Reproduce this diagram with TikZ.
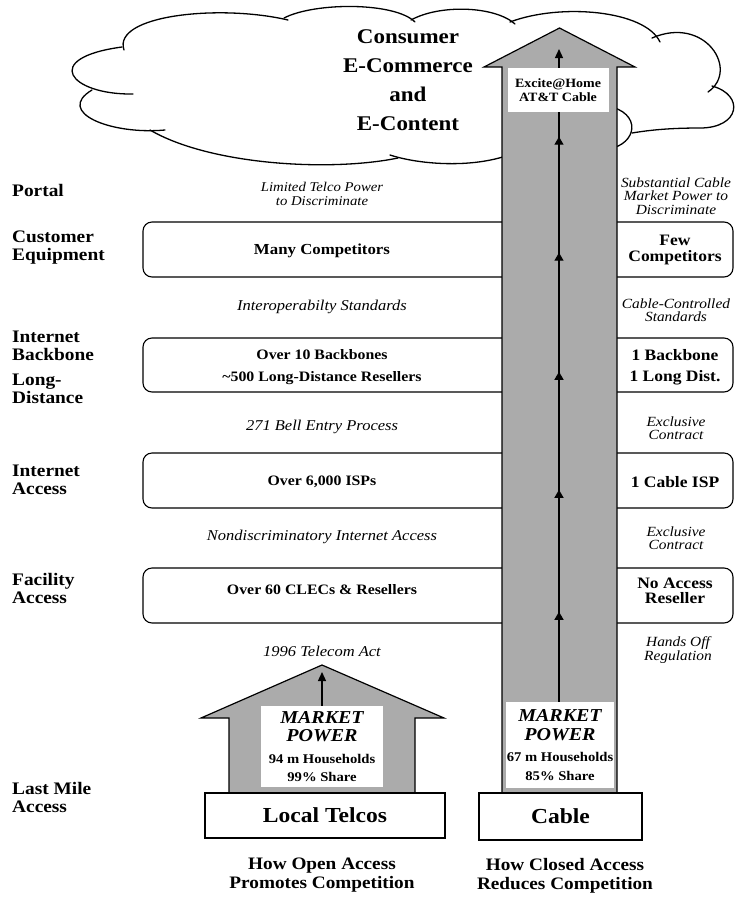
\documentclass[tikz,border=0pt]{standalone}
\usepackage{fontspec}
\setmainfont{Liberation Serif}[FakeStretch=1.1]
\usetikzlibrary{arrows.meta,decorations.markings}
\newcommand{\hhf}{\bfseries\upshape\fontsize{13.3}{17}\selectfont}
\tikzset{
  cloudline/.style={line width=1.3pt, line cap=round},
  lbl/.style={font=\bfseries\fontsize{17.6}{18}\selectfont, align=left, anchor=west, inner sep=0pt},
  boxtxt/.style={font=\bfseries\fontsize{14.4}{17}\selectfont, align=center, inner sep=0pt},
  rboxtxt/.style={font=\bfseries\fontsize{15.9}{15.5}\selectfont, align=center, inner sep=0pt},
  itl/.style={font=\itshape\fontsize{15}{15}\selectfont, align=center, inner sep=0pt},
  sitl/.style={font=\itshape\fontsize{13.4}{14.5}\selectfont, align=center, inner sep=0pt},
  ritl/.style={font=\itshape\fontsize{14}{13.5}\selectfont, align=center, inner sep=0pt},
  layerbox/.style={draw, rounded corners=9pt, line width=1.1pt},
  bigarrow/.style={fill=black!33, draw=black, line width=1.2pt, line join=miter},
  whitebox/.style={fill=white, draw=none, inner sep=0pt, align=center},
  mktbox/.style={whitebox, font=\bfseries\itshape\fontsize{18.2}{18.5}\selectfont},
  basebox/.style={draw, fill=white, line width=1.1pt, font=\bfseries\fontsize{21.4}{24}\selectfont, inner sep=0pt},
  caption/.style={font=\bfseries\fontsize{17.5}{19}\selectfont, align=center, inner sep=0pt},
  cloudtxt/.style={font=\bfseries\fontsize{20.9}{29}\selectfont, align=center, inner sep=0pt},
  flow/.style={line width=1.3pt},
  tip/.style={-{Triangle[width=8pt,length=9pt]}, line width=1.3pt}
}
\begin{document}
\begin{tikzpicture}[x=1pt,y=-1pt]
\useasboundingbox (0,0) rectangle (735,898);
% cloud
\draw[cloudline] (124,50) .. controls (112,15) and (220,4) .. (288,20);
\draw[cloudline] (284,18) .. controls (315,2) and (395,2) .. (415,22);
\draw[cloudline] (411,20) .. controls (440,4) and (495,6) .. (515,24);
\draw[cloudline] (510,22) .. controls (560,3) and (645,10) .. (660,42);
\draw[cloudline] (652,38) .. controls (705,15) and (740,70) .. (708,92);
\draw[cloudline] (712,86) .. controls (745,95) and (740,128) .. (700,128) .. controls (670,128) and (650,130) .. (632,133);
\draw[cloudline] (600,105) .. controls (640,108) and (640,140) .. (613,148);
\draw[cloudline] (540,135) .. controls (510,170) and (430,168) .. (390,155);
\draw[cloudline] (398,158) .. controls (330,172) and (210,165) .. (150,130);
\draw[cloudline] (165,130) .. controls (110,135) and (55,112) .. (92,90);
\draw[cloudline] (133,94) .. controls (70,95) and (40,58) .. (122,47);
\node[cloudtxt] (cloudt) at (408,80) {Consumer\\E-Commerce\\and\\E-Content};
% layer boxes
\node[layerbox, minimum width=590pt, minimum height=55pt] (b1) at (438,249.5) {};
\node[layerbox, minimum width=590pt, minimum height=54pt] (b2) at (438,365) {};
\node[layerbox, minimum width=590pt, minimum height=55pt] (b3) at (438,480.5) {};
\node[layerbox, minimum width=590pt, minimum height=55pt] (b4) at (438,595.5) {};
% left labels
\node[lbl] (lp) at (12,190) {Portal};
\node[lbl] (lce) at (12,248) {Customer\\Equipment};
\node[lbl] (lib) at (12,345.5) {Internet\\Backbone};
\node[lbl] (lld) at (12,388.5) {Long-\\Distance};
\node[lbl] (lia) at (12,480) {Internet\\Access};
\node[lbl] (lfa) at (12,588) {Facility\\Access};
\node[lbl] (llm) at (12,797) {Last Mile\\Access};
% open side texts
\node[sitl] (i1) at (322,194) {Limited Telco Power\\to Discriminate};
\node[boxtxt, font=\bfseries\fontsize{15.3}{17}\selectfont] (t1) at (322,251) {Many Competitors};
\node[itl] (i2) at (322,307) {Interoperabilty Standards};
\node[boxtxt] (t2a) at (322,355) {Over 10 Backbones};
\node[boxtxt] (t2b) at (322,378) {\textasciitilde500 Long-Distance Resellers};
\node[itl] (i3) at (322,427) {271 Bell Entry Process};
\node[boxtxt] (t3) at (322,482) {Over 6,000 ISPs};
\node[itl] (i4) at (322,537) {Nondiscriminatory Internet Access};
\node[boxtxt] (t4) at (322,590) {Over 60 CLECs \& Resellers};
\node[itl] (i5) at (322,651) {1996 Telecom Act};
% closed side texts
\node[ritl] (r1) at (676,196) {Substantial Cable\\Market Power to\\Discriminate};
\node[rboxtxt] (s1) at (675,250) {Few\\Competitors};
\node[ritl] (r2) at (676,310) {Cable-Controlled\\Standards};
\node[rboxtxt] (s2a) at (675,355) {1 Backbone};
\node[rboxtxt] (s2b) at (675,378) {1 Long Dist.};
\node[ritl] (r3) at (676,428) {Exclusive\\Contract};
\node[rboxtxt] (s3) at (675,482) {1 Cable ISP};
\node[ritl] (r4) at (676,538) {Exclusive\\Contract};
\node[rboxtxt] (s4) at (675,591) {No Access\\Reseller};
\node[ritl] (r5) at (678,650) {Hands Off\\Regulation};
% cable arrow
\draw[bigarrow] (502,793) -- (502,67) -- (484,67) -- (559.5,28) -- (635,67) -- (617,67) -- (617,793) -- cycle;
\node[whitebox, minimum width=101pt, minimum height=44pt, font=\bfseries\fontsize{12.7}{14}\selectfont] (ex) at (558,90) {Excite@Home\\AT\&T Cable};
\node[mktbox, minimum width=108pt, minimum height=86pt] (cm) at (560,745) {MARKET\\POWER\\[3pt] {\hhf 67 m Households}\\ {\hhf 85\% Share}};
\coordinate (ctip) at (559,49);
\draw[tip] (ex.north -| ctip) -- (ctip);
\draw[flow, postaction={decorate}, decoration={markings,
  mark=at position 0.1527 with {\arrow{Triangle[width=9pt,length=8pt]}},
  mark=at position 0.3596 with {\arrow{Triangle[width=9pt,length=8pt]}},
  mark=at position 0.5598 with {\arrow{Triangle[width=9pt,length=8pt]}},
  mark=at position 0.7617 with {\arrow{Triangle[width=9pt,length=8pt]}},
  mark=at position 0.9584 with {\arrow{Triangle[width=9pt,length=8pt]}}}]
  (cm.north -| ctip) -- (ex.south -| ctip);
% telco arrow
\draw[bigarrow] (229,793) -- (229,718) -- (201,718) -- (322,665) -- (444,718) -- (415,718) -- (415,793) -- cycle;
\node[mktbox, minimum width=122pt, minimum height=81pt] (tm) at (322,746.5) {MARKET\\POWER\\[3pt] {\hhf 94 m Households}\\ {\hhf 99\% Share}};
\coordinate (ltip) at (322,672);
\draw[tip] (tm.north) -- (ltip);
% base boxes
\node[basebox, minimum width=240pt, minimum height=45pt] (lt) at (325,815.5) {Local Telcos};
\node[basebox, minimum width=163pt, minimum height=47pt] (cb) at (560.5,816.5) {Cable};
% captions
\node[caption] (c1) at (322,875) {How Open Access\\Promotes Competition};
\node[caption] (c2) at (565,876) {How Closed Access\\Reduces Competition};
\end{tikzpicture}
\end{document}
